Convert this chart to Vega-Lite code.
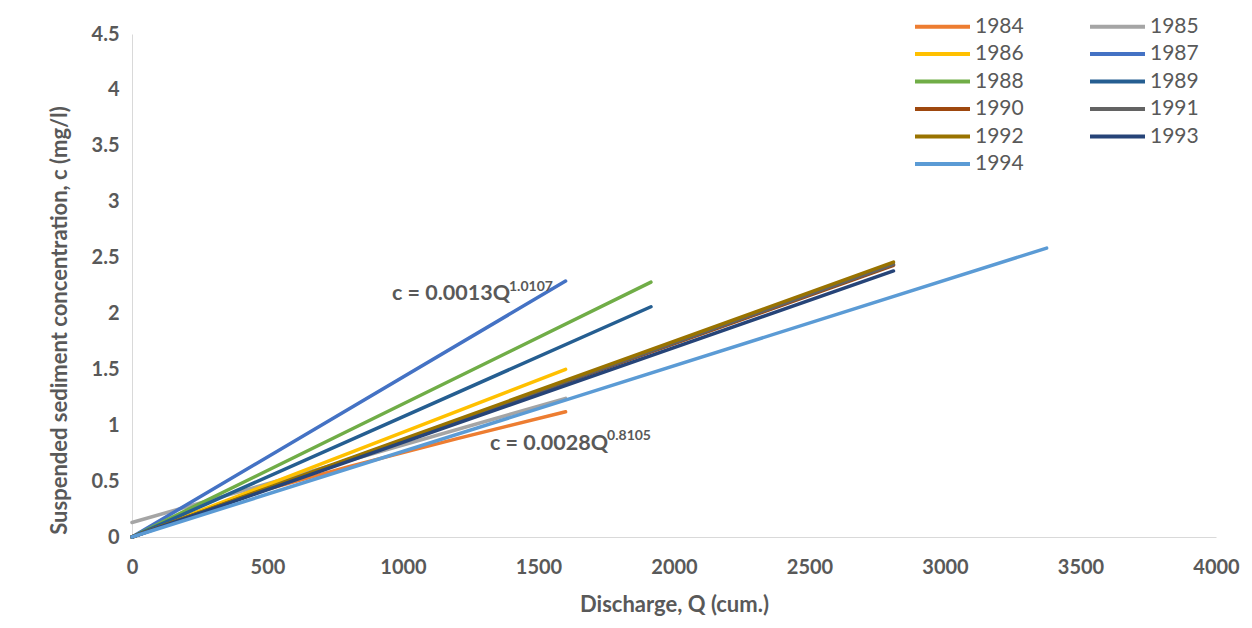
{
  "$schema": "https://vega.github.io/schema/vega-lite/v6.json",
  "width": 1084,
  "height": 503,
  "autosize": {"type": "none"},
  "padding": {"left": 132, "top": 34, "right": 36, "bottom": 91},
  "background": "white",
  "config": {
    "view": {"stroke": null},
    "font": "Lato",
    "axis": {
      "labelFont": "Lato",
      "labelFontSize": 20,
      "labelFontWeight": "bold",
      "labelColor": "#595959",
      "titleFont": "Lato",
      "titleFontSize": 22,
      "titleFontWeight": "bold",
      "titleColor": "#595959",
      "domainColor": "#D9D9D9",
      "domainWidth": 1,
      "ticks": false,
      "grid": false,
      "labelFlush": false
    }
  },
  "datasets": {
    "series": [
      {"year": "1984", "Q": 0, "c": 0},
      {"year": "1984", "Q": 400, "c": 0.36},
      {"year": "1984", "Q": 800, "c": 0.63},
      {"year": "1984", "Q": 1200, "c": 0.88},
      {"year": "1984", "Q": 1600, "c": 1.12},
      {"year": "1985", "Q": 0, "c": 0.13},
      {"year": "1985", "Q": 1600, "c": 1.24},
      {"year": "1986", "Q": 0, "c": 0},
      {"year": "1986", "Q": 1600, "c": 1.5},
      {"year": "1987", "Q": 0, "c": 0},
      {"year": "1987", "Q": 1600, "c": 2.29},
      {"year": "1988", "Q": 0, "c": 0},
      {"year": "1988", "Q": 1915, "c": 2.28},
      {"year": "1989", "Q": 0, "c": 0},
      {"year": "1989", "Q": 1915, "c": 2.06},
      {"year": "1990", "Q": 0, "c": 0},
      {"year": "1990", "Q": 2810, "c": 2.43},
      {"year": "1991", "Q": 0, "c": 0},
      {"year": "1991", "Q": 2810, "c": 2.44},
      {"year": "1992", "Q": 0, "c": 0},
      {"year": "1992", "Q": 2810, "c": 2.46},
      {"year": "1993", "Q": 0, "c": 0},
      {"year": "1993", "Q": 2810, "c": 2.38},
      {"year": "1994", "Q": 0, "c": 0},
      {"year": "1994", "Q": 3375, "c": 2.585}
    ],
    "labels": [
      {"kind": "main", "Q": 959, "c": 2.173, "t": "c = 0.0013Q"},
      {"kind": "sup", "Q": 1391, "c": 2.236, "t": "1.0107"},
      {"kind": "main", "Q": 1321, "c": 0.832, "t": "c = 0.0028Q"},
      {"kind": "sup", "Q": 1753, "c": 0.903, "t": "0.8105"}
    ]
  },
  "layer": [
    {
      "data": {"name": "series"},
      "mark": {"type": "line", "strokeWidth": 3.5, "strokeCap": "round"},
      "encoding": {
        "x": {
          "field": "Q", "type": "quantitative",
          "scale": {"domain": [0, 4000], "nice": false},
          "axis": {
            "title": "Discharge, Q (cum.)",
            "values": [0, 500, 1000, 1500, 2000, 2500, 3000, 3500, 4000],
            "format": "d",
            "labelPadding": 20,
            "titlePadding": 17
          }
        },
        "y": {
          "field": "c", "type": "quantitative",
          "scale": {"domain": [0, 4.5], "nice": false},
          "axis": {
            "title": "Suspended sediment concentration, c (mg/l)",
            "values": [0, 0.5, 1, 1.5, 2, 2.5, 3, 3.5, 4, 4.5],
            "format": "~g",
            "labelPadding": 13,
            "titlePadding": 20,
            "titleY": 286
          }
        },
        "color": {
          "field": "year", "type": "nominal",
          "scale": {
            "domain": ["1984", "1986", "1988", "1990", "1992", "1994", "1985", "1987", "1989", "1991", "1993"],
            "range": ["#ED7D31", "#FFC000", "#70AD47", "#9E480E", "#997300", "#5B9BD5", "#A5A5A5", "#4472C4", "#255E91", "#636363", "#264478"]
          },
          "legend": {
            "title": null,
            "orient": "none",
            "legendX": 778,
            "legendY": -18,
            "columns": 2,
            "symbolType": "M-1,0H9",
            "symbolSize": 121,
            "symbolStrokeWidth": 4,
            "symbolFillColor": "transparent",
            "labelFont": "Lato",
            "labelFontSize": 21,
            "labelColor": "#595959",
            "labelOffset": 44,
            "columnPadding": 58,
            "rowPadding": 5.5,
            "padding": 0
          }
        }
      }
    },
    {
      "data": {"name": "labels"},
      "transform": [{"filter": "datum.kind == 'main'"}],
      "mark": {"type": "text", "align": "left", "baseline": "middle", "fontWeight": "bold", "fontSize": 21.5, "font": "Lato", "color": "#595959"},
      "encoding": {
        "x": {"field": "Q", "type": "quantitative"},
        "y": {"field": "c", "type": "quantitative"},
        "text": {"field": "t"}
      }
    },
    {
      "data": {"name": "labels"},
      "transform": [{"filter": "datum.kind == 'sup'"}],
      "mark": {"type": "text", "align": "left", "baseline": "middle", "fontWeight": "bold", "fontSize": 14, "font": "Lato", "color": "#595959"},
      "encoding": {
        "x": {"field": "Q", "type": "quantitative"},
        "y": {"field": "c", "type": "quantitative"},
        "text": {"field": "t"}
      }
    }
  ]
}
